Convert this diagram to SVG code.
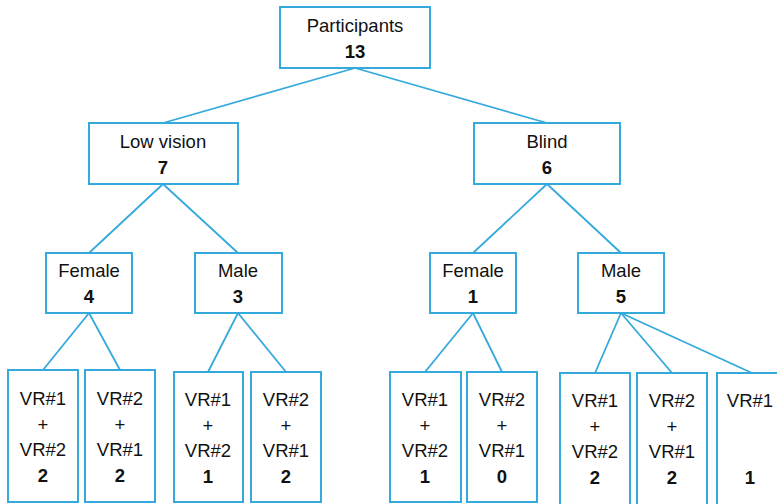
<svg xmlns="http://www.w3.org/2000/svg" width="777" height="504" viewBox="0 0 777 504">
<style>
rect{fill:#fff;stroke:#34a9dc;stroke-width:2}
line{stroke:#34a9dc;stroke-width:1.8}
text{font-family:"Liberation Sans",Arial,sans-serif;font-size:18.5px;fill:#111;text-anchor:middle}
.b{font-weight:bold}
</style>
<rect width="777" height="504" style="fill:#fff;stroke:none"/>
<g id="connectors">
<line x1="355" y1="68" x2="163" y2="123"/>
<line x1="355" y1="68" x2="547" y2="123"/>
<line x1="163" y1="184" x2="89" y2="253"/>
<line x1="163" y1="184" x2="238" y2="253"/>
<line x1="547" y1="184" x2="473" y2="253"/>
<line x1="547" y1="184" x2="621" y2="253"/>
<line x1="89" y1="313" x2="43" y2="370"/>
<line x1="89" y1="313" x2="120" y2="370"/>
<line x1="238" y1="313" x2="208" y2="372"/>
<line x1="238" y1="313" x2="286" y2="372"/>
<line x1="473" y1="313" x2="425" y2="372"/>
<line x1="473" y1="313" x2="502" y2="372"/>
<line x1="621" y1="313" x2="595" y2="373"/>
<line x1="621" y1="313" x2="672" y2="373"/>
<line x1="621" y1="313" x2="752" y2="373"/>
</g>
<g id="participants"><rect x="280" y="7" width="150" height="61"/><text x="355" y="32">Participants</text><text x="355" y="58" class="b">13</text></g>
<g id="lowvision"><rect x="89" y="123" width="149" height="61"/><text x="163" y="148">Low vision</text><text x="163" y="174" class="b">7</text></g>
<g id="blind"><rect x="474" y="123" width="146" height="61"/><text x="547" y="148">Blind</text><text x="547" y="174" class="b">6</text></g>
<g id="lv-female"><rect x="46" y="253" width="86" height="60"/><text x="89" y="277">Female</text><text x="89" y="303" class="b">4</text></g>
<g id="lv-male"><rect x="195" y="253" width="87" height="60"/><text x="238" y="277">Male</text><text x="238" y="303" class="b">3</text></g>
<g id="b-female"><rect x="430" y="253" width="86" height="60"/><text x="473" y="277">Female</text><text x="473" y="303" class="b">1</text></g>
<g id="b-male"><rect x="578" y="253" width="86" height="60"/><text x="621" y="277">Male</text><text x="621" y="303" class="b">5</text></g>
<g id="leaf1"><rect x="8" y="370" width="70" height="132"/><text x="43" y="405">VR#1</text><text x="43" y="431">+</text><text x="43" y="456">VR#2</text><text x="43" y="482" class="b">2</text></g>
<g id="leaf2"><rect x="85" y="370" width="70" height="132"/><text x="120" y="405">VR#2</text><text x="120" y="431">+</text><text x="120" y="456">VR#1</text><text x="120" y="482" class="b">2</text></g>
<g id="leaf3"><rect x="174" y="372" width="69" height="130"/><text x="208" y="406">VR#1</text><text x="208" y="432">+</text><text x="208" y="457">VR#2</text><text x="208" y="483" class="b">1</text></g>
<g id="leaf4"><rect x="251" y="372" width="70" height="130"/><text x="286" y="406">VR#2</text><text x="286" y="432">+</text><text x="286" y="457">VR#1</text><text x="286" y="483" class="b">2</text></g>
<g id="leaf5"><rect x="390" y="372" width="71" height="130"/><text x="425" y="406">VR#1</text><text x="425" y="432">+</text><text x="425" y="457">VR#2</text><text x="425" y="483" class="b">1</text></g>
<g id="leaf6"><rect x="467" y="372" width="70" height="130"/><text x="502" y="406">VR#2</text><text x="502" y="432">+</text><text x="502" y="457">VR#1</text><text x="502" y="483" class="b">0</text></g>
<g id="leaf7"><rect x="560" y="373" width="70" height="132"/><text x="595" y="407">VR#1</text><text x="595" y="433">+</text><text x="595" y="458">VR#2</text><text x="595" y="484" class="b">2</text></g>
<g id="leaf8"><rect x="637" y="373" width="70" height="132"/><text x="672" y="407">VR#2</text><text x="672" y="433">+</text><text x="672" y="458">VR#1</text><text x="672" y="484" class="b">2</text></g>
<g id="leaf9"><rect x="717" y="373" width="70" height="132"/><text x="750" y="407">VR#1</text><text x="750" y="484" class="b">1</text></g>
</svg>
